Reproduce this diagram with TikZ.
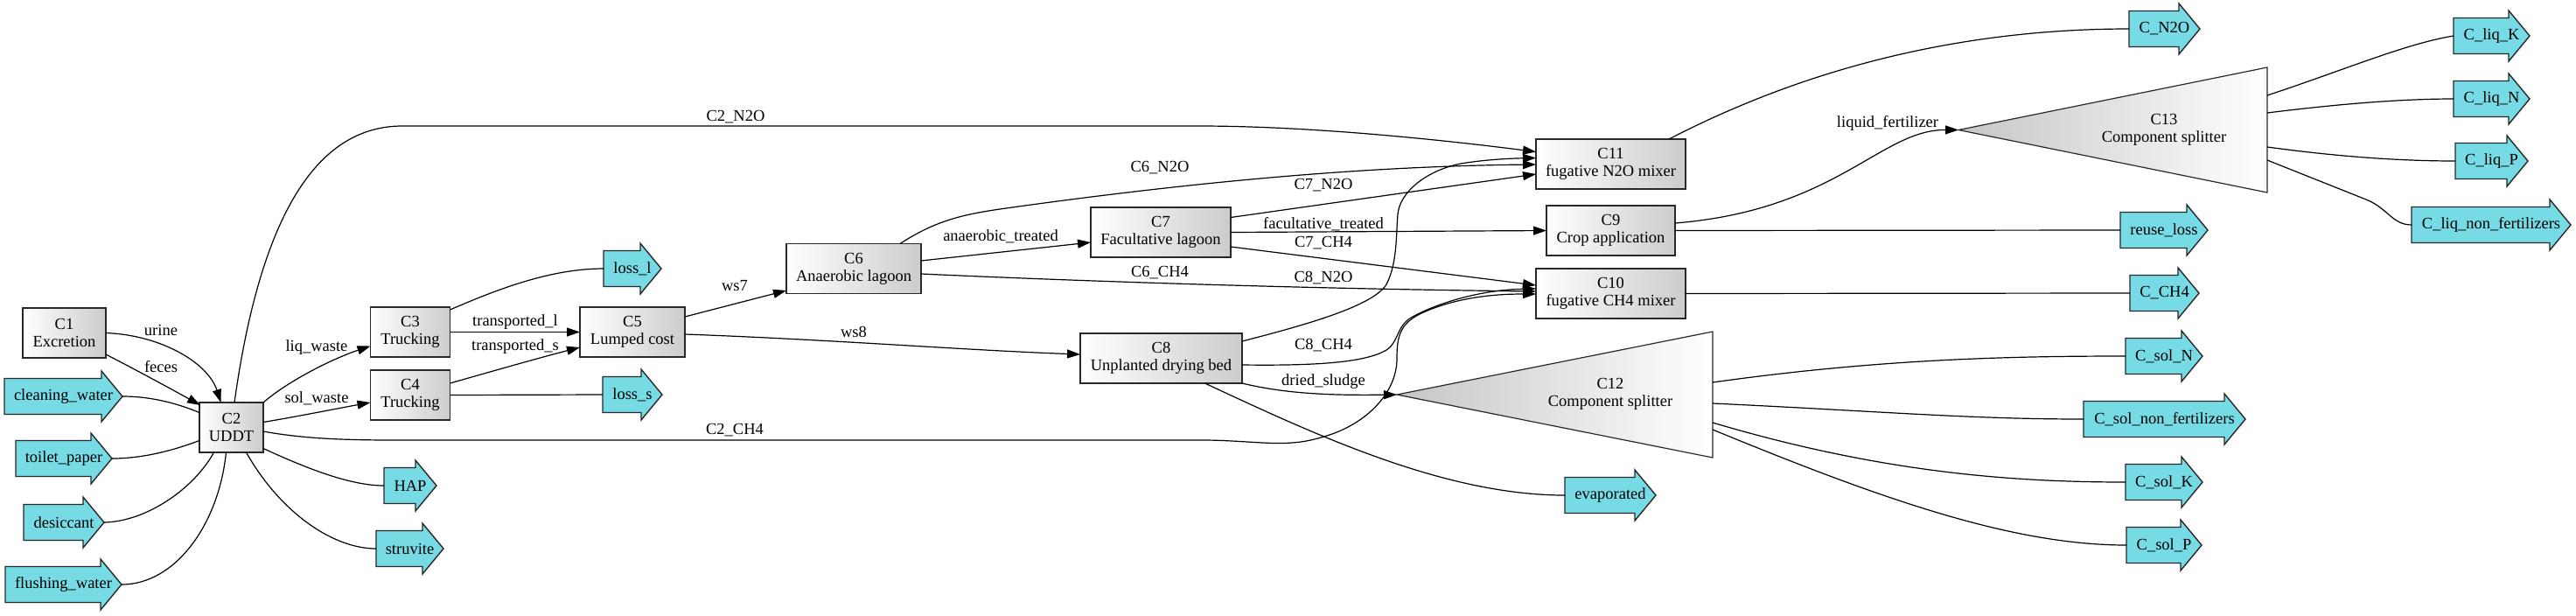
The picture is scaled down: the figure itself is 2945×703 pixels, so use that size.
\documentclass[tikz,border=0pt]{standalone}
\usepackage{fontspec}
\setmainfont{Liberation Serif}
\usetikzlibrary{arrows.meta,calc}
\definecolor{arrcyan}{RGB}{119,219,230}
\definecolor{bordergray}{RGB}{40,40,40}
\tikzset{
  every node/.style={font=\fontsize{9.25}{10}\selectfont},
  box/.style={rectangle, draw=bordergray, line width=0.7pt, left color=white, right color=gray!40,
    minimum height=28.5pt, inner sep=0pt, outer sep=0pt, align=center},
  bw/.style={minimum width=#1*0.5pt},
  arrshape/.style={fill=arrcyan, draw=bordergray, line width=0.7pt},
  arrtext/.style={rectangle, inner sep=0pt, outer sep=0pt, minimum height=20.5pt},
  tri/.style={draw=bordergray, line width=0.6pt, left color=gray!45, right color=white},
  trinode/.style={rectangle, inner sep=0pt, outer sep=0pt},
  tritext/.style={align=center, inner sep=0pt},
  lbl/.style={inner sep=0pt},
  flow/.style={draw=black, line width=0.6pt, -{Triangle[length=7.5pt,width=5pt]}},
  plain/.style={draw=black, line width=0.6pt},
}
\newcommand\rarrnode[5]{%
  \path[arrshape] (#2,#4-20.5) -- (#3-24,#4-20.5) -- (#3-24,#4-29) -- (#3,#4)
     -- (#3-24,#4+29) -- (#3-24,#4+20.5) -- (#2,#4+20.5) -- cycle;
  \node[arrtext, minimum width={(#3-#2)*0.5pt}] (#1) at ({(#2+#3)/2},#4) {#5};
}
\begin{document}
\begin{tikzpicture}[x=0.5pt, y=-0.5pt]
\useasboundingbox (0,0) rectangle (2945,703);

% component boxes
\node[box, bw=95]  (C1)  at (73.5,380.5)  {C1\\Excretion};
\node[box, bw=73]  (C2)  at (264.5,488.5) {C2\\UDDT};
\node[box, bw=91]  (C3)  at (469,379.5)   {C3\\Trucking};
\node[box, bw=91]  (C4)  at (469,451.5)   {C4\\Trucking};
\node[box, bw=120] (C5)  at (723,379.5)   {C5\\Lumped cost};
\node[box, bw=154] (C6)  at (976,307)     {C6\\Anaerobic lagoon};
\node[box, bw=160] (C7)  at (1327,265.5)  {C7\\Facultative lagoon};
\node[box, bw=185] (C8)  at (1327.5,409.5){C8\\Unplanted drying bed};
\node[box, bw=147] (C9)  at (1841.5,263.5){C9\\Crop application};
\node[box, bw=171] (C10) at (1841.5,335.5){C10\\fugative CH4 mixer};
\node[box, bw=171] (C11) at (1841.5,187.5){C11\\fugative N2O mixer};

% splitters
\node[trinode, minimum width=361*0.5pt, minimum height=144*0.5pt] (C12) at (1777.5,451) {};
\path[tri] (C12.west) -- (C12.north east) -- (C12.south east) -- cycle;
\node[tritext] (C12t) at (1841,450) {C12\\Component splitter};
\node[trinode, minimum width=353*0.5pt, minimum height=143*0.5pt] (C13) at (2415.5,148.5) {};
\path[tri] (C13.west) -- (C13.north east) -- (C13.south east) -- cycle;
\node[tritext] (C13t) at (2474,148) {C13\\Component splitter};

% stream arrows
\rarrnode{cw}{5}{140}{453}{cleaning\_water}
\rarrnode{tp}{18}{128}{524}{toilet\_paper}
\rarrnode{ds}{27}{119}{597}{desiccant}
\rarrnode{fw}{6}{139}{668}{flushing\_water}
\rarrnode{hap}{439}{499}{555}{HAP}
\rarrnode{stv}{430}{507}{627}{struvite}
\rarrnode{lossl}{690}{756}{307}{loss\_l}
\rarrnode{losss}{689}{757}{451}{loss\_s}
\rarrnode{evap}{1789}{1893}{566}{evaporated}
\rarrnode{cn2o}{2434}{2515}{33}{C\_N2O}
\rarrnode{reuse}{2424}{2524}{263}{reuse\_loss}
\rarrnode{cch4}{2435}{2514}{335}{C\_CH4}
\rarrnode{csn}{2430}{2518}{407}{C\_sol\_N}
\rarrnode{csnf}{2382}{2567}{479}{C\_sol\_non\_fertilizers}
\rarrnode{csk}{2430}{2518}{551}{C\_sol\_K}
\rarrnode{csp}{2431}{2517}{623}{C\_sol\_P}
\rarrnode{clk}{2805}{2892}{41}{C\_liq\_K}
\rarrnode{cln}{2805}{2892}{113}{C\_liq\_N}
\rarrnode{clp}{2807}{2890}{184}{C\_liq\_P}
\rarrnode{clnf}{2757}{2939}{257}{C\_liq\_non\_fertilizers}

% inputs to C2
\draw[flow] (C1.east) .. controls (185,383) and (238,415) .. ($(C2.north)+(-12,0)$)
  node[lbl] at (184,377) {urine};
\draw[flow] ($(C1.south east)+(0,-4)$) .. controls (160,425) and (200,447) .. ($(C2.north west)+(1,3)$)
  node[lbl] at (184,419) {feces};
\draw[plain] (cw.east) .. controls (175,453) and (205,462) .. ($(C2.west)+(0,-17)$);
\draw[plain] (tp.east) .. controls (165,524) and (200,514) .. ($(C2.west)+(0,15)$);
\draw[plain] (ds.east) .. controls (168,596) and (222,558) .. ($(C2.south)+(-20,0)$);
\draw[plain] (fw.east) .. controls (200,668) and (250,600) .. ($(C2.south)+(-6,0)$);

% outputs of C2
\draw[flow] (C2.north east) .. controls (330,435) and (380,410) .. ($(C3.west)+(0,16)$)
  node[lbl] at (362,397) {liq\_waste};
\draw[flow] ($(C2.east)+(0,-6)$) .. controls (340,476) and (390,466) .. ($(C4.west)+(0,8.5)$)
  node[lbl] at (362,455) {sol\_waste};
\draw[plain] ($(C2.east)+(0,24)$) .. controls (350,535) and (400,555) .. (hap.west);
\draw[plain] ($(C2.south)+(17,0)$) .. controls (320,585) and (380,627) .. (stv.west);
\draw[flow] ($(C2.north)+(3.5,0)$) .. controls (300,230) and (370,144) .. (460,144) -- (1370,144)
  .. controls (1500,144) and (1650,160) .. ($(C11.west)+(0,-14)$)
  node[lbl] at (841,134) {C2\_N2O};
\draw[flow] ($(C2.east)+(0,4.5)$) .. controls (340,500) and (380,503) .. (450,503) -- (1380,503)
  .. controls (1440,504) and (1470,512) .. (1510,500)
  .. controls (1560,487) and (1597,450) .. (1597,410)
  .. controls (1597,385) and (1600,370) .. (1625,358)
  .. controls (1660,342) and (1700,336) .. ($(C10.west)+(0,0.5)$)
  node[lbl] at (840,492) {C2\_CH4};

% trucking
\draw[plain] ($(C3.north east)+(0,3)$) .. controls (570,330) and (630,307) .. (lossl.west);
\draw[flow] (C3.east) -- (C5.west) node[lbl] at (589,368) {transported\_l};
\draw[flow] ($(C4.north east)+(0,15)$) .. controls (560,425) and (620,408) .. ($(C5.west)+(0,17.5)$)
  node[lbl] at (589,396) {transported\_s};
\draw[plain] (C4.east) -- (losss.west);

% lumped cost
\draw[flow] ($(C5.east)+(0,-17.5)$) -- ($(C6.west)+(0,25)$) node[lbl] at (840,327) {ws7};
\draw[flow] ($(C5.east)+(0,2.5)$) .. controls (950,388) and (1100,400) .. ($(C8.west)+(0,-4.5)$)
  node[lbl] at (976,379) {ws8};

% anaerobic lagoon
\draw[flow] ($(C6.north)+(53,0)$) .. controls (1070,252) and (1100,245) .. (1150,238)
  .. controls (1350,210) and (1550,190) .. ($(C11.west)+(0,0.5)$)
  node[lbl] at (1326,192) {C6\_N2O};
\draw[flow] ($(C6.east)+(0,-9)$) -- ($(C7.west)+(0,11.5)$) node[lbl] at (1144,270) {anaerobic\_treated};
\draw[flow] ($(C6.east)+(0,6)$) .. controls (1250,322) and (1500,330) .. ($(C10.west)+(0,-2.5)$)
  node[lbl] at (1326,312) {C6\_CH4};

% facultative lagoon
\draw[flow] ($(C7.east)+(0,-17)$) -- ($(C11.west)+(0,11.5)$) node[lbl] at (1513,212) {C7\_N2O};
\draw[flow] (C7.east) -- (C9.west) node[lbl] at (1513,256) {facultative\_treated};
\draw[flow] ($(C7.east)+(0,16.5)$) -- ($(C10.west)+(0,-9.5)$) node[lbl] at (1513,278) {C7\_CH4};

% drying bed
\draw[flow] ($(C8.north east)+(0,9)$) .. controls (1490,372) and (1570,350) .. (1585,325)
  .. controls (1598,300) and (1596,265) .. (1598,245)
  .. controls (1600,220) and (1630,195) .. (1670,187)
  .. controls (1700,182) and (1730,181) .. ($(C11.west)+(0,-7)$)
  node[lbl] at (1513,318) {C8\_N2O};
\draw[flow] ($(C8.east)+(0,7.5)$) .. controls (1500,418) and (1560,415) .. (1585,400)
  .. controls (1600,390) and (1596,372) .. (1615,362)
  .. controls (1650,343) and (1700,331) .. ($(C10.west)+(0,-5.5)$)
  node[lbl] at (1513,395) {C8\_CH4};
\draw[flow] (C8.south east) .. controls (1470,450) and (1520,452) .. (C12.west)
  node[lbl] at (1513,436) {dried\_sludge};
\draw[plain] ($(C8.south)+(50,0)$) .. controls (1500,495) and (1650,566) .. (evap.west);

% crop application and mixers
\draw[flow] ($(C9.east)+(0,-8.5)$) .. controls (2100,240) and (2150,148) .. (C13.west)
  node[lbl] at (2158,141) {liquid\_fertilizer};
\draw[plain] (C9.east) -- (reuse.west);
\draw[plain] (C10.east) -- (cch4.west);
\draw[plain] ($(C11.north)+(66.5,0)$) .. controls (2080,70) and (2260,33) .. (cn2o.west);

% solid splitter
\draw[plain] ($(C12.east)+(0,-14)$) .. controls (2150,410) and (2300,407) .. (csn.west);
\draw[plain] ($(C12.east)+(0,10)$) .. controls (2150,470) and (2250,479) .. (csnf.west);
\draw[plain] ($(C12.east)+(0,32)$) .. controls (2150,540) and (2300,551) .. (csk.west);
\draw[plain] ($(C12.east)+(0,40)$) .. controls (2150,570) and (2300,623) .. (csp.west);

% liquid splitter
\draw[plain] ($(C13.east)+(0,-39.5)$) .. controls (2680,80) and (2750,50) .. (clk.west);
\draw[plain] ($(C13.east)+(0,-19.5)$) .. controls (2680,118) and (2750,113) .. (cln.west);
\draw[plain] ($(C13.east)+(0,19.5)$) .. controls (2680,180) and (2750,184) .. (clp.west);
\draw[plain] ($(C13.east)+(0,34.5)$) -- (2705,228) .. controls (2730,238) and (2735,257) .. (clnf.west);
\end{tikzpicture}
\end{document}
